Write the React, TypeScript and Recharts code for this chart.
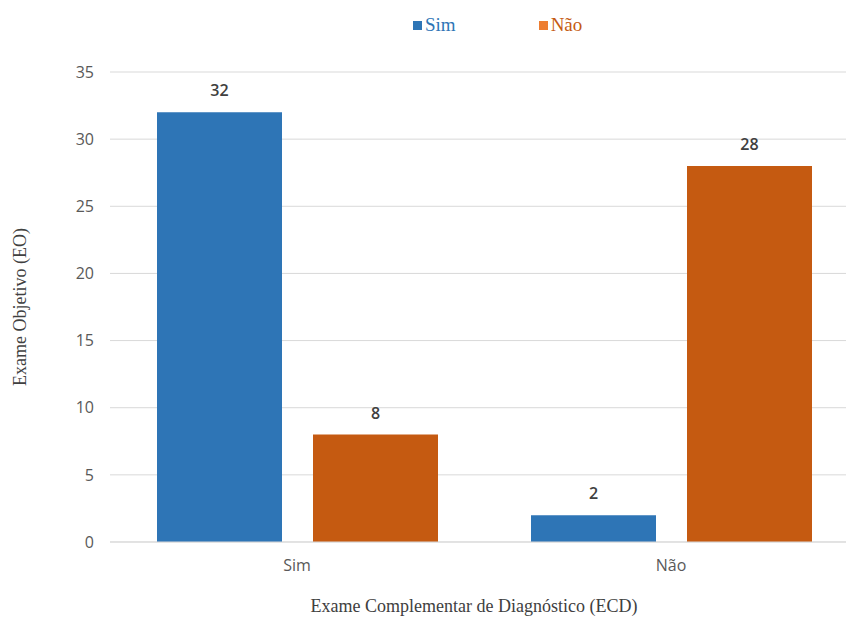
import { Bar, BarChart, CartesianGrid, LabelList, XAxis, YAxis } from "recharts"

const categories = ["Sim", "Não"]
const simValues = [32, 2]
const naoValues = [8, 28]
const yTicks = [0, 5, 10, 15, 20, 25, 30, 35]

const data = categories.map((name, i) => ({
  name,
  sim: simValues[i],
  nao: naoValues[i],
}))

const BLUE = "#2E75B6"
const ORANGE = "#C55A11"

function TopLegend() {
  return (
    <div
      style={{
        position: "absolute",
        top: 14,
        left: 413,
        display: "flex",
        gap: 83,
        fontFamily: "'Liberation Serif', serif",
        fontSize: 19,
      }}
    >
      <span style={{ color: BLUE, display: "flex", alignItems: "center" }}>
        <span style={{ width: 9, height: 9, background: BLUE, marginRight: 3, display: "inline-block" }} />
        Sim
      </span>
      <span style={{ color: ORANGE, display: "flex", alignItems: "center" }}>
        <span style={{ width: 9, height: 9, background: "#ED7D31", marginRight: 3, display: "inline-block" }} />
        Não
      </span>
    </div>
  )
}

export default function App() {
  return (
    <div style={{ position: "absolute", top: 0, left: 0, width: 846, height: 617, background: "#fff" }}>
      <TopLegend />
      <BarChart
        width={846}
        height={617}
        data={data}
        margin={{ top: 72, right: -12, bottom: 45, left: 0 }}
        barCategoryGap={47}
        barGap={31}
      >
        <CartesianGrid vertical={false} stroke="#d9d9d9" />
        <XAxis
          dataKey="name"
          axisLine={{ stroke: "#d9d9d9" }}
          tickLine={false}
          tick={{ fill: "#595959", fontSize: 16, fontFamily: "'Open Sans', sans-serif" }}
          tickMargin={12}
          label={{
            value: "Exame Complementar de Diagnóstico (ECD)",
            position: "bottom",
            offset: 27,
            fill: "#404040",
            fontSize: 18,
            fontFamily: "'Liberation Serif', serif",
            dx: -10,
          }}
        />
        <YAxis
          width={110}
          domain={[0, 35]}
          ticks={yTicks}
          axisLine={false}
          tickLine={false}
          tickMargin={10}
          tick={{ fill: "#595959", fontSize: 16, fontFamily: "'Open Sans', sans-serif" }}
          label={{
            value: "Exame Objetivo (EO)",
            angle: -90,
            position: "insideLeft",
            offset: 20,
            fill: "#404040",
            fontSize: 18,
            fontFamily: "'Liberation Serif', serif",
            style: { textAnchor: "middle" },
          }}
        />
        <Bar dataKey="sim" fill={BLUE} isAnimationActive={false}>
          <LabelList
            dataKey="sim"
            position="top"
            offset={16}
            fill="#404040"
            fontSize={16}
            fontWeight={600}
            fontFamily="'Open Sans', sans-serif"
          />
        </Bar>
        <Bar dataKey="nao" fill={ORANGE} isAnimationActive={false}>
          <LabelList
            dataKey="nao"
            position="top"
            offset={16}
            fill="#404040"
            fontSize={16}
            fontWeight={600}
            fontFamily="'Open Sans', sans-serif"
          />
        </Bar>
      </BarChart>
    </div>
  )
}
